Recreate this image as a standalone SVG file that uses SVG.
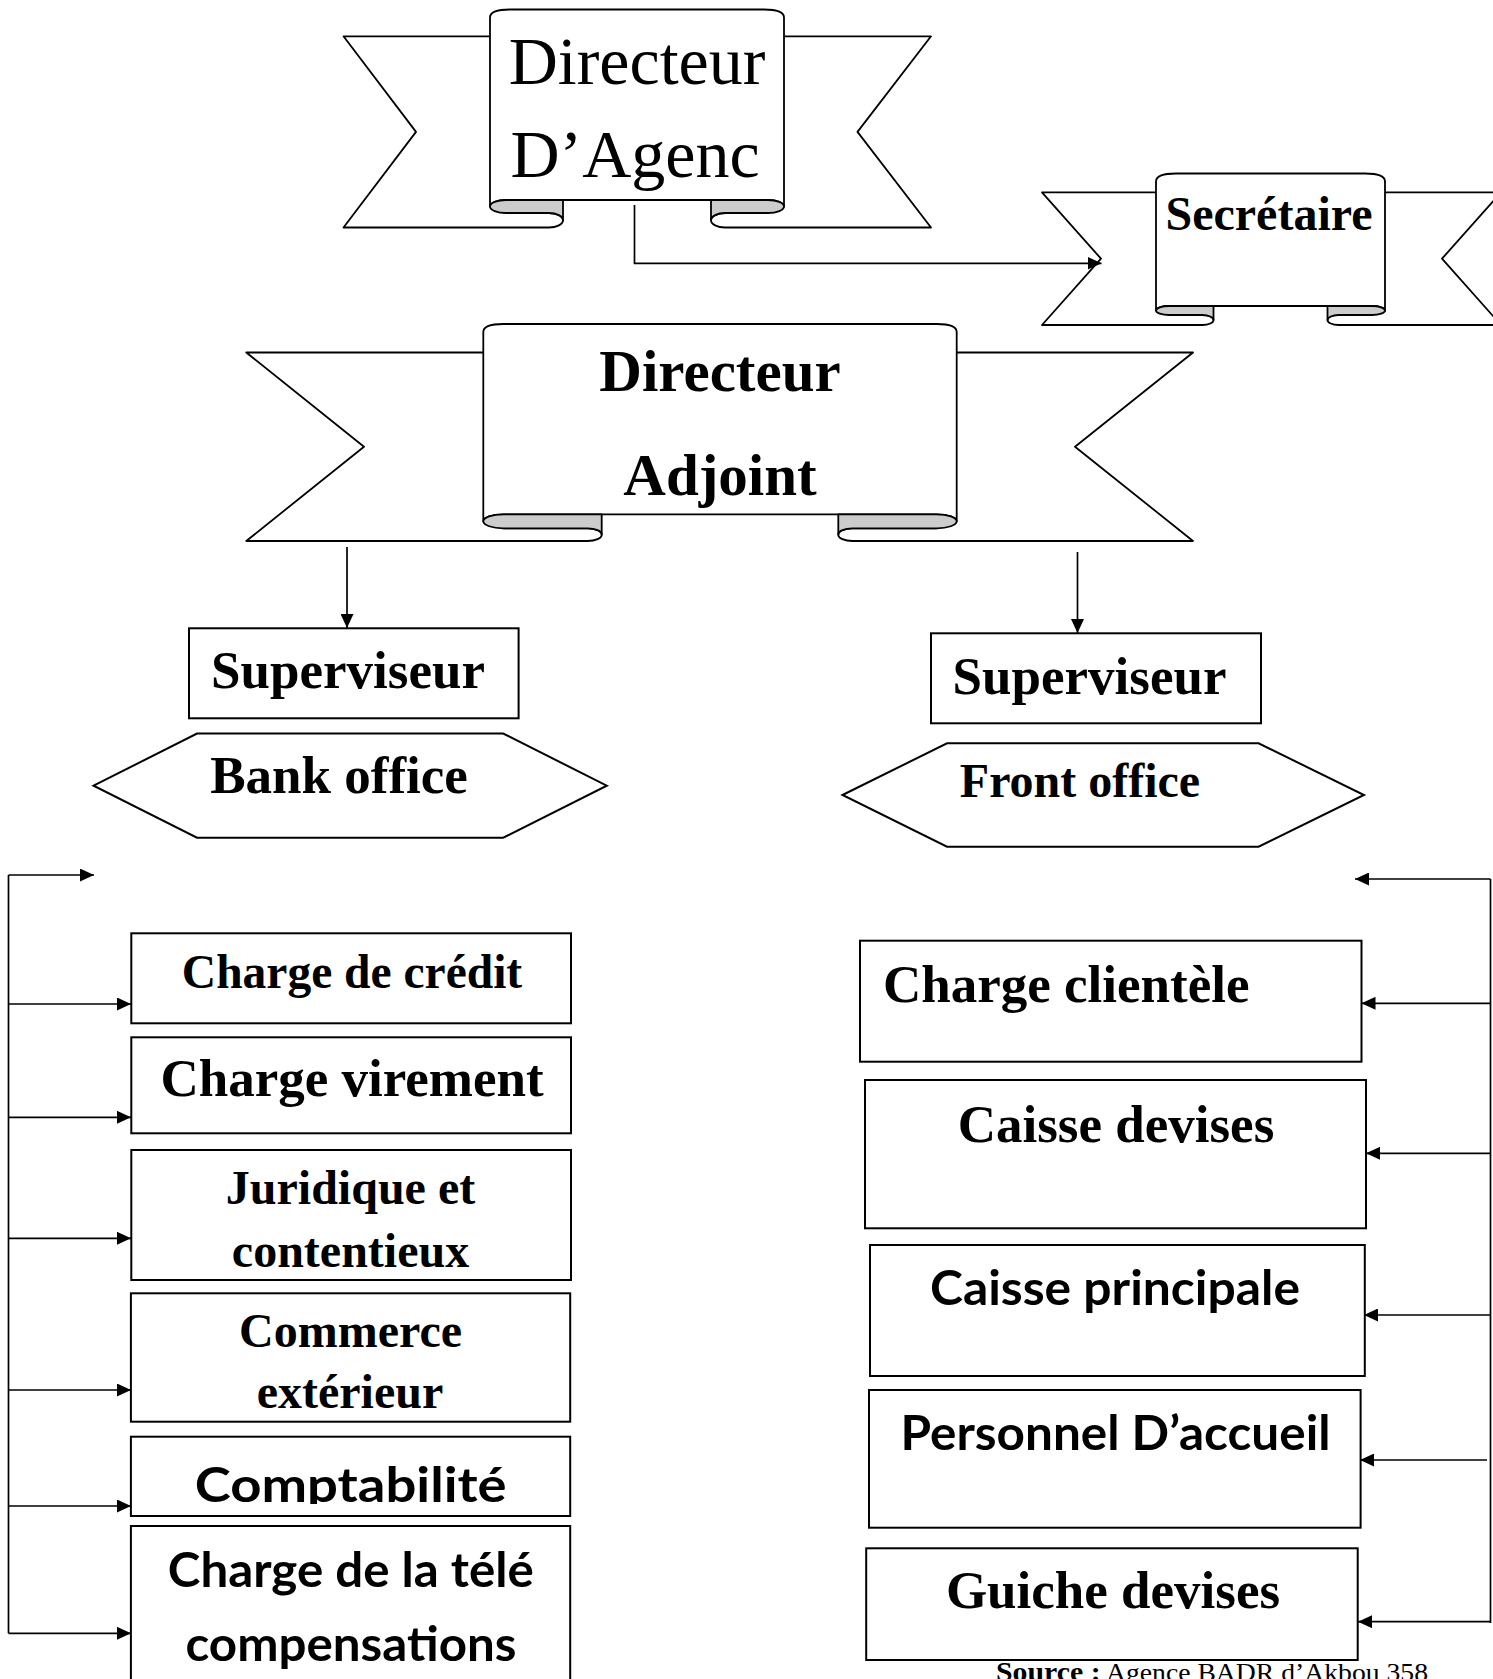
<svg xmlns="http://www.w3.org/2000/svg" width="1493" height="1679" viewBox="0 0 1493 1679">
<style>
.rib{fill:#fff;stroke:#000;stroke-width:1.8;stroke-linejoin:round}
.curl{fill:#cccccc;stroke:#000;stroke-width:1.8;stroke-linejoin:round}
.box{fill:#fff;stroke:#000;stroke-width:2}
.conn{fill:none;stroke:#000;stroke-width:1.7}
.tr{font-family:"Liberation Serif","Times New Roman",serif;fill:#000}
.tb{font-family:"Liberation Serif","Times New Roman",serif;font-weight:bold;fill:#000}
.sb{font-family:Lato,"Open Sans",sans-serif;font-weight:bold;fill:#000}
.c{text-anchor:middle}
</style>
<defs>
<marker id="ah" markerUnits="userSpaceOnUse" markerWidth="14" markerHeight="13" refX="14" refY="6.5" orient="auto">
<path d="M0,0 L14,6.5 L0,13 z" fill="#000"/>
</marker>
<clipPath id="clipCompta"><rect x="131" y="1437" width="439" height="67"/></clipPath>
</defs>
<rect width="1493" height="1679" fill="#fff"/>

<g id="node-directeur-agence">
<path class="rib" d="M490,36.3 H343.5 L416,131.9 L343.5,227.5 H549 A14,7.25 0 0 0 563,220.25 A14,7.25 0 0 0 549,213 H506 V36.3 Z"/>
<path class="rib" d="M784,36.3 H931 L857.5,131.9 L931,227.5 H725 A14,7.25 0 0 1 711,220.25 A14,7.25 0 0 1 725,213 H768 V36.3 Z"/>
<path class="rib" d="M490,206.5 V17.5 Q490,9.5 510,9.5 H764 Q784,9.5 784,17.5 V206.5 A16,6.5 0 0 0 768,200 H506 A16,6.5 0 0 0 490,206.5 Z"/>
<path class="curl" d="M563,200 H506 A16,6.5 0 0 0 506,213 H549 A14,7.25 0 0 1 563,220.25 Z"/>
<path class="curl" d="M711,200 H768 A16,6.5 0 0 1 768,213 H725 A14,7.25 0 0 0 711,220.25 Z"/>
<text class="tr c" x="637" y="83.5" font-size="68">Directeur</text>
<text class="tr c" x="635" y="177" font-size="68">D’Agenc</text>
</g>

<g id="node-secretaire">
<path class="rib" d="M1156,192.3 H1042 L1101,258.7 L1042,325 H1202.5 A11,5 0 0 0 1213.5,320 A11,5 0 0 0 1202.5,315 H1169 V192.3 Z"/>
<path class="rib" d="M1385,192.3 H1501 L1442,258.7 L1501,325 H1338.5 A11,5 0 0 1 1327.5,320 A11,5 0 0 1 1338.5,315 H1372 V192.3 Z"/>
<path class="rib" d="M1156,310.5 V181.5 Q1156,173.5 1176,173.5 H1365 Q1385,173.5 1385,181.5 V310.5 A13,4.5 0 0 0 1372,306 H1169 A13,4.5 0 0 0 1156,310.5 Z"/>
<path class="curl" d="M1213.5,306 H1169 A13,4.5 0 0 0 1169,315 H1202.5 A11,5 0 0 1 1213.5,320 Z"/>
<path class="curl" d="M1327.5,306 H1372 A13,4.5 0 0 1 1372,315 H1338.5 A11,5 0 0 0 1327.5,320 Z"/>
<text class="tb c" x="1269" y="230" font-size="48">Secrétaire</text>
</g>

<g id="node-directeur-adjoint">
<path class="rib" d="M483.3,352.5 H246.3 L364,446.7 L246.3,541 H587.7 A14,6.35 0 0 0 601.7,534.65 A14,6.35 0 0 0 587.7,528.3 H503.3 V352.5 Z"/>
<path class="rib" d="M956.7,352.5 H1193 L1075,446.7 L1193,541 H852.3 A14,6.35 0 0 1 838.3,534.65 A14,6.35 0 0 1 852.3,528.3 H936.7 V352.5 Z"/>
<path class="rib" d="M483.3,521.3 V332 Q483.3,324 503.3,324 H936.7 Q956.7,324 956.7,332 V521.3 A20,7 0 0 0 936.7,514.3 H503.3 A20,7 0 0 0 483.3,521.3 Z"/>
<path class="curl" d="M601.7,514.3 H503.3 A20,7 0 0 0 503.3,528.3 H587.7 A14,6.35 0 0 1 601.7,534.65 Z"/>
<path class="curl" d="M838.3,514.3 H936.7 A20,7 0 0 1 936.7,528.3 H852.3 A14,6.35 0 0 0 838.3,534.65 Z"/>
<text class="tb c" x="720" y="391" font-size="59">Directeur</text>
<text class="tb c" x="720" y="495" font-size="59">Adjoint</text>
</g>

<g id="node-superviseur-back">
<rect class="box" x="189" y="628.3" width="329.6" height="90"/>
<text class="tb c" x="348" y="688.3" font-size="53">Superviseur</text>
</g>
<g id="node-bank-office">
<polygon class="box" points="93.6,785.7 197,733.5 503.2,733.5 606.8,785.7 503.2,837.7 197,837.7"/>
<text class="tb c" x="339" y="793.3" font-size="53">Bank office</text>
</g>

<g id="node-superviseur-front">
<rect class="box" x="931" y="633.3" width="330" height="90"/>
<text class="tb c" x="1089.5" y="694" font-size="53">Superviseur</text>
</g>
<g id="node-front-office">
<polygon class="box" points="842.5,795 947,743.3 1258.6,743.3 1364,795 1258.6,846.7 947,846.7"/>
<text class="tb c" x="1080" y="796.7" font-size="48">Front office</text>
</g>

<g id="node-charge-credit">
<rect class="box" x="131.3" y="933.3" width="439.7" height="90"/>
<text class="tb c" x="352" y="988.3" font-size="47.5">Charge de crédit</text>
</g>
<g id="node-charge-virement">
<rect class="box" x="131.3" y="1037.3" width="439.7" height="96"/>
<text class="tb c" x="352" y="1096" font-size="53">Charge virement</text>
</g>
<g id="node-juridique">
<rect class="box" x="131.3" y="1150" width="439.7" height="130"/>
<text class="tb c" x="350.5" y="1204" font-size="48">Juridique et</text>
<text class="tb c" x="350.5" y="1266.7" font-size="48">contentieux</text>
</g>
<g id="node-commerce">
<rect class="box" x="130.9" y="1293.3" width="439.3" height="128.4"/>
<text class="tb c" x="350.5" y="1346.7" font-size="48">Commerce</text>
<text class="tb c" x="350" y="1408" font-size="48">extérieur</text>
</g>
<g id="node-comptabilite">
<rect class="box" x="130.9" y="1436.7" width="439.3" height="79.3"/>
<text class="sb c" x="350.7" y="1501.7" font-size="47" textLength="312" lengthAdjust="spacingAndGlyphs" clip-path="url(#clipCompta)">Comptabilité</text>
</g>
<g id="node-tele-compensation">
<path class="box" d="M130.9,1700 V1526 H570.2 V1700"/>
<text class="sb c" x="350.8" y="1587" font-size="47" textLength="366" lengthAdjust="spacingAndGlyphs">Charge de la télé</text>
<text class="sb c" x="351" y="1661" font-size="47" textLength="331" lengthAdjust="spacingAndGlyphs">compensations</text>
</g>

<g id="node-charge-clientele">
<rect class="box" x="860" y="940.7" width="501.5" height="121"/>
<text class="tb" x="883" y="1001.7" font-size="53">Charge clientèle</text>
</g>
<g id="node-caisse-devises">
<rect class="box" x="865" y="1080" width="501" height="148.3"/>
<text class="tb c" x="1116" y="1141.7" font-size="53">Caisse devises</text>
</g>
<g id="node-caisse-principale">
<rect class="box" x="870" y="1245" width="494.8" height="131"/>
<text class="sb c" x="1115" y="1305" font-size="47" textLength="370" lengthAdjust="spacingAndGlyphs">Caisse principale</text>
</g>
<g id="node-personnel-accueil">
<rect class="box" x="869" y="1390" width="491.6" height="137.7"/>
<text class="sb c" x="1115.5" y="1450" font-size="47" textLength="430" lengthAdjust="spacingAndGlyphs">Personnel D’accueil</text>
</g>
<g id="node-guiche-devises">
<rect class="box" x="866.2" y="1548.3" width="491.5" height="111.7"/>
<text class="tb c" x="1113" y="1608.3" font-size="53">Guiche devises</text>
</g>

<g id="source">
<text class="tr" x="996" y="1681" font-size="26" textLength="432" lengthAdjust="spacingAndGlyphs"><tspan font-weight="bold" font-size="28">Source :</tspan> Agence BADR d’Akbou 358</text>
</g>

<g id="connectors">
<path class="conn" d="M634.5,205 V263.3 H1101.5" marker-end="url(#ah)"/>
<path class="conn" d="M347,547 V628" marker-end="url(#ah)"/>
<path class="conn" d="M1077.5,552 V633" marker-end="url(#ah)"/>
<path class="conn" d="M8.5,875 V1633.3"/>
<path class="conn" d="M8.5,875 H94" marker-end="url(#ah)"/>
<path class="conn" d="M8.5,1004 H131" marker-end="url(#ah)"/>
<path class="conn" d="M8.5,1117.3 H131" marker-end="url(#ah)"/>
<path class="conn" d="M8.5,1238.3 H131" marker-end="url(#ah)"/>
<path class="conn" d="M8.5,1390 H131" marker-end="url(#ah)"/>
<path class="conn" d="M8.5,1506 H131" marker-end="url(#ah)"/>
<path class="conn" d="M8.5,1633.3 H131" marker-end="url(#ah)"/>
<path class="conn" d="M1490.5,879 V1623"/>
<path class="conn" d="M1490.5,879 H1355" marker-end="url(#ah)"/>
<path class="conn" d="M1490.5,1003.3 H1361.5" marker-end="url(#ah)"/>
<path class="conn" d="M1490.5,1153.3 H1366" marker-end="url(#ah)"/>
<path class="conn" d="M1490.5,1315 H1364" marker-end="url(#ah)"/>
<path class="conn" d="M1487,1460 H1360" marker-end="url(#ah)"/>
<path class="conn" d="M1490.5,1621.7 H1358" marker-end="url(#ah)"/>
</g>
</svg>
